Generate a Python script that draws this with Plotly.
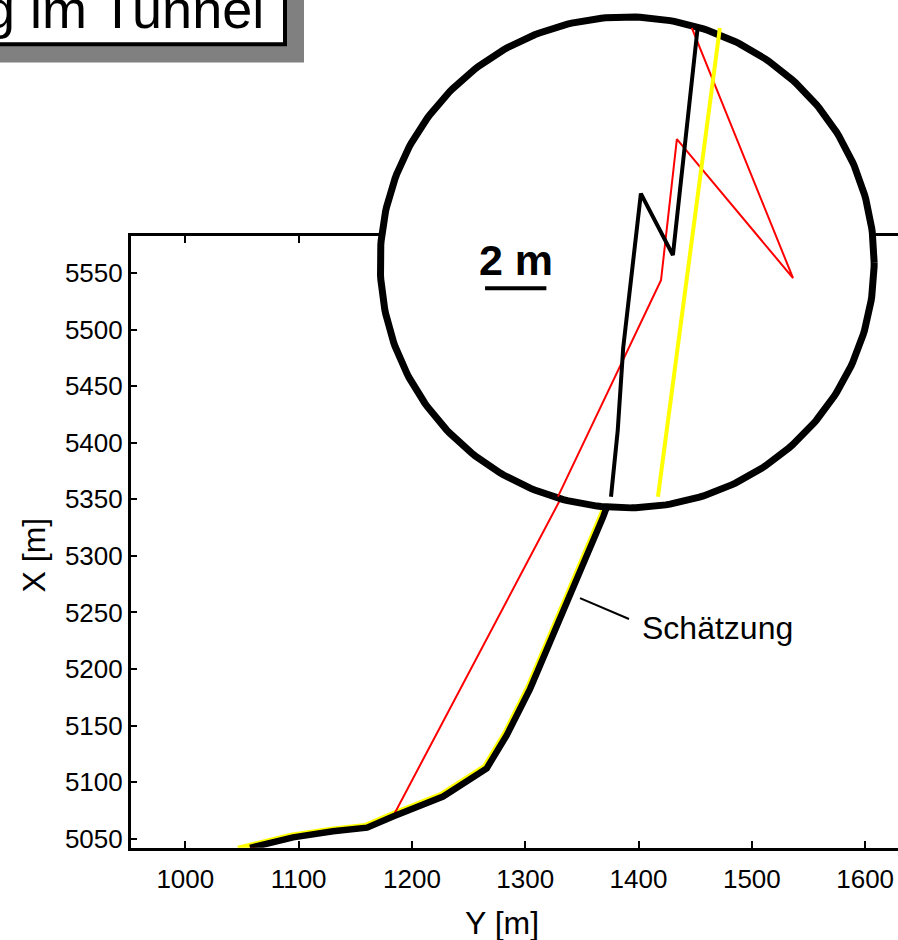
import numpy as np
import plotly.graph_objects as go

W, H = 898, 940
FONT = "Liberation Sans, Arial, sans-serif"

# ---------------- data (main axes: horizontal = Y [m], vertical = X [m]) ----------------
est_h = [1057.1, 1095.1, 1130.4, 1160.4, 1183.3, 1227.5, 1266.0, 1283.7, 1304.3, 1333.6, 1351.3, 1368.9, 1388.0]
est_v = [5041.8, 5051.1, 5056.4, 5059.7, 5069.6, 5087.2, 5112.1, 5141.4, 5182.4, 5252.7, 5293.7, 5334.7, 5387.4]

ref_h = [1046.5, 1093.6, 1128.9, 1158.9, 1181.8, 1226.0, 1264.5, 1282.2, 1302.8, 1332.1, 1349.8, 1367.4, 1386.5]
ref_v = [5041.0, 5052.6, 5057.9, 5061.2, 5071.1, 5088.7, 5113.6, 5142.9, 5183.9, 5254.2, 5295.2, 5336.2, 5388.9]

red_h = [1057.1, 1095.1, 1130.4, 1160.4, 1183.3, 1366.0]
red_v = [5041.8, 5051.1, 5056.4, 5059.7, 5069.6, 5416.4]

x_ticks = [1000, 1100, 1200, 1300, 1400, 1500, 1600]
y_ticks = [5050, 5100, 5150, 5200, 5250, 5300, 5350, 5400, 5450, 5500, 5550]

# ---------------- inset (magnifier, local metres) ----------------
ins_est_h = [7.51, 7.73, 7.91, 8.49, 9.54, 9.97, 10.35]
ins_est_v = [0.43, 2.61, 5.34, 10.43, 8.40, 12.46, 15.89]
ins_ref_h = [9.05, 11.08]
ins_ref_v = [0.43, 15.89]
ins_red_h = [5.77, 9.15, 9.67, 13.48, 10.16]
ins_red_v = [0.43, 7.57, 12.23, 7.64, 15.90]
scale_h = [3.38, 5.39]
scale_v = [7.31, 7.31]

# circle (magnifier outline) in inset coordinates
c_h, c_v, c_r = 8.04, 8.16, 8.10
t = np.linspace(0, 2 * np.pi, 361)
circ_h = c_h + c_r * np.cos(t)
circ_v = c_v + c_r * np.sin(t)


def px(x):
    return x / W


def py(y):
    return 1 - y / H


fig = go.Figure()

# main traces
fig.add_trace(go.Scatter(x=ref_h, y=ref_v, mode="lines", line=dict(color="#ffff00", width=6),
                         xaxis="x", yaxis="y", hoverinfo="skip", showlegend=False))
fig.add_trace(go.Scatter(x=red_h, y=red_v, mode="lines", line=dict(color="#ff0000", width=2),
                         xaxis="x", yaxis="y", hoverinfo="skip", showlegend=False))
fig.add_trace(go.Scatter(x=est_h, y=est_v, mode="lines", line=dict(color="black", width=6.5),
                         xaxis="x", yaxis="y", hoverinfo="skip", showlegend=False))

# inset traces
fig.add_trace(go.Scatter(x=circ_h, y=circ_v, mode="lines", fill="toself", fillcolor="white",
                         line=dict(color="black", width=7), xaxis="x2", yaxis="y2",
                         hoverinfo="skip", showlegend=False))
fig.add_trace(go.Scatter(x=ins_red_h, y=ins_red_v, mode="lines", line=dict(color="#ff0000", width=2),
                         xaxis="x2", yaxis="y2", hoverinfo="skip", showlegend=False))
fig.add_trace(go.Scatter(x=ins_ref_h, y=ins_ref_v, mode="lines", line=dict(color="#ffff00", width=4),
                         xaxis="x2", yaxis="y2", hoverinfo="skip", showlegend=False))
fig.add_trace(go.Scatter(x=ins_est_h, y=ins_est_v, mode="lines", line=dict(color="black", width=4),
                         xaxis="x2", yaxis="y2", hoverinfo="skip", showlegend=False))
fig.add_trace(go.Scatter(x=scale_h, y=scale_v, mode="lines", line=dict(color="black", width=4),
                         xaxis="x2", yaxis="y2", hoverinfo="skip", showlegend=False))

fig.update_layout(
    width=W, height=H,
    margin=dict(l=0, r=0, t=0, b=0),
    paper_bgcolor="white",
    plot_bgcolor="rgba(0,0,0,0)",
    font=dict(family=FONT, color="black"),
    xaxis=dict(domain=[px(130.7), 1.0], range=[951.8, 1629.0], tickvals=x_ticks,
               ticks="inside", ticklen=7, tickwidth=1.5, tickcolor="black",
               showline=True, linecolor="black", linewidth=2.5, mirror="ticks",
               showgrid=False, zeroline=False, tickfont=dict(size=26, family=FONT),
               ticklabelstandoff=6, anchor="y"),
    yaxis=dict(domain=[py(853.3), py(237.3)], range=[5041.8, 5583.1], tickvals=y_ticks,
               ticks="inside", ticklen=7, tickwidth=1.5, tickcolor="black",
               showline=True, linecolor="black", linewidth=2.5, mirror=False,
               showgrid=False, zeroline=False, tickfont=dict(size=26, family=FONT),
               anchor="x"),
    xaxis2=dict(domain=[px(375), px(890)], range=[-0.23, 16.66], visible=False, anchor="y2"),
    yaxis2=dict(domain=[py(522), py(6)], range=[-0.295, 16.62], visible=False, anchor="x2"),
    shapes=[
        dict(type="rect", xref="paper", yref="paper", x0=px(-20), x1=px(304), y0=py(63), y1=py(-20),
             fillcolor="#808080", line=dict(width=0), layer="above"),
        dict(type="rect", xref="paper", yref="paper", x0=px(-20), x1=px(285), y0=py(44.5), y1=py(-20),
             fillcolor="white", line=dict(color="black", width=4), layer="above"),
        dict(type="line", xref="paper", yref="paper", x0=px(580), y0=py(602), x1=px(629), y1=py(623),
             line=dict(color="black", width=2), layer="above"),
    ],
    annotations=[
        dict(text="Ortung im Tunnel", xref="paper", yref="paper", x=px(266), y=py(9),
             xanchor="right", yanchor="middle", showarrow=False, font=dict(size=54, family=FONT)),
        dict(text="Schätzung", xref="paper", yref="paper", x=px(640), y=py(632),
             xanchor="left", yanchor="middle", showarrow=False, font=dict(size=32, family=FONT)),
        dict(text="Y [m]", xref="paper", yref="paper", x=px(502), y=py(929),
             xanchor="center", yanchor="middle", showarrow=False, font=dict(size=32, family=FONT)),
        dict(text="X [m]", xref="paper", yref="paper", x=px(34), y=py(559), textangle=-90,
             xanchor="center", yanchor="middle", showarrow=False, font=dict(size=32, family=FONT)),
        dict(text="<b>2 m</b>", xref="paper", yref="paper", x=px(515.5), y=py(262),
             xanchor="center", yanchor="middle", showarrow=False, font=dict(size=43, family=FONT)),
    ],
)

fig.write_html("out.html", config={"displayModeBar": False},
               post_script="document.body.style.margin='0';document.body.style.overflow='hidden';")
